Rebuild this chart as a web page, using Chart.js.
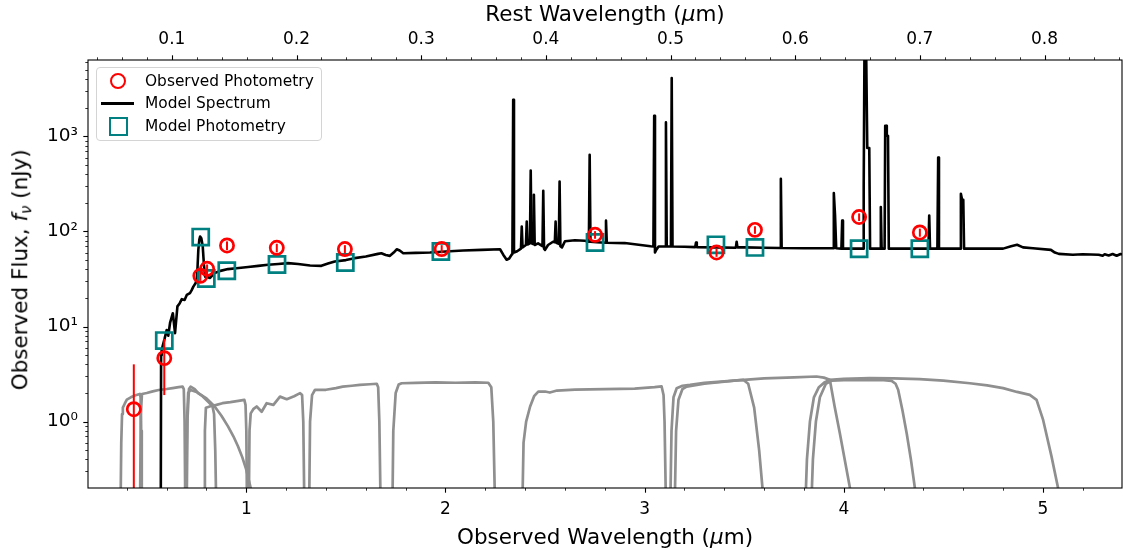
<!DOCTYPE html>
<html>
<head>
<meta charset="utf-8">
<title>SED fit</title>
<script src="https://cdn.jsdelivr.net/npm/chart.js@4.4.0/dist/chart.umd.min.js"></script>
<style>
  html, body { margin: 0; padding: 0; overflow: hidden; background: #fff; font-family: "DejaVu Sans", sans-serif; color: #000; }
  #wrap { position: relative; width: 1123px; height: 550px; overflow: hidden; }
  canvas { display: block; }
  .ttl { position: absolute; font-size: 21.5px; line-height: 21.5px; height: 21.5px; text-align: center; white-space: nowrap; }
  .ttl sub { font-size: 0.7em; vertical-align: -0.25em; line-height: 0; }
  #legend { position: absolute; left: 96px; top: 67px; width: 224px; height: 72px; border: 1px solid #d4d4d4; border-radius: 4px; background: rgba(255,255,255,0.8); font-size: 15.4px; }
  .row { position: absolute; left: 0; height: 20px; line-height: 20px; }
  .row span { position: absolute; left: 48px; white-space: nowrap; }
  .mk { position: absolute; box-sizing: border-box; }
</style>
</head>
<body>
<div id="wrap">
  <canvas id="SedChart" width="1123" height="550"></canvas>
  <div class="ttl" style="left:305px; top:3px; width:600px;">Rest Wavelength (<i>μ</i>m)</div>
  <div class="ttl" style="left:305px; top:526px; width:600px;">Observed Wavelength (<i>μ</i>m)</div>
  <div class="ttl" style="left:-180px; top:259px; width:400px; transform: rotate(-90deg);">Observed Flux, <i>f</i><sub><i>ν</i></sub> (nJy)</div>
  <div id="legend">
    <div class="row" style="top:3px;"><div class="mk" style="left:13px; top:2px; width:16px; height:16px; border:2.7px solid #ff0000; border-radius:50%;"></div><span>Observed Photometry</span></div>
    <div class="row" style="top:25px;"><div class="mk" style="left:4px; top:9px; width:33px; height:2.7px; background:#000;"></div><span>Model Spectrum</span></div>
    <div class="row" style="top:48px;"><div class="mk" style="left:12px; top:1px; width:18.5px; height:18.5px; border:2.7px solid #008080;"></div><span>Model Photometry</span></div>
  </div>
</div>
<script>
// redshift used for the rest-frame axis on top
const onePlusZ = 6.26;
const xMin = 0.205, xMax = 5.397;
const yMin = 0.2, yMax = 6370;

// observed photometry (nJy) and 1-sigma errors
const obsWave = [0.435, 0.588, 0.769, 0.803, 0.903, 1.153, 1.495, 1.981, 2.751, 3.361, 3.554, 4.077, 4.382];
const obsFlux = [1.35, 4.65, 34.2, 40.5, 71.2, 67.3, 65.3, 65.3, 92.3, 60.1, 104, 142, 97.6];
const obsErr  = [2.65, 2.75, 4.0, 4.5, 7.5, 7.0, 6.5, 6.5, 8.5, 6.0, 9.5, 13, 9.5];

// model photometry
const modelWave = [0.588, 0.771, 0.799, 0.902, 1.154, 1.497, 1.977, 2.751, 3.358, 3.554, 4.077, 4.382];
const modelFlux = [7.12, 87.3, 32.0, 38.6, 44.9, 47.2, 61.6, 76.6, 72.4, 67.9, 65.8, 65.8];

// model spectrum
const specWave = [0.570, 0.572, 0.575, 0.590, 0.600, 0.608, 0.617, 0.631, 0.642, 0.654, 0.665, 0.676, 0.690, 0.701, 0.717, 0.725, 0.734, 0.745, 0.751, 0.755, 0.759, 0.764, 0.768, 0.774, 0.781, 0.787, 0.793, 0.805, 0.818, 0.841, 0.870, 0.908, 0.950, 1.009, 1.060, 1.109, 1.160, 1.209, 1.260, 1.320, 1.377, 1.410, 1.444, 1.500, 1.544, 1.600, 1.661, 1.678, 1.700, 1.721, 1.740, 1.755, 1.770, 1.788, 1.850, 1.922, 2.000, 2.089, 2.180, 2.274, 2.290, 2.307, 2.320, 2.332,
  2.336, 2.340, 2.344, 2.360, 2.379, 2.383, 2.387, 2.404, 2.408, 2.412, 2.424, 2.428, 2.432, 2.440, 2.444, 2.448, 2.465, 2.487, 2.491, 2.495, 2.500, 2.515, 2.540, 2.549, 2.553, 2.557, 2.569, 2.573, 2.577, 2.585, 2.600, 2.650, 2.700, 2.720, 2.724, 2.728, 2.760, 2.802, 2.806, 2.810, 2.900, 2.980,
  3.030, 3.044, 3.048, 3.052, 3.058, 3.070, 3.103, 3.107, 3.111, 3.132, 3.136, 3.140, 3.200, 3.254, 3.258, 3.262, 3.350, 3.458, 3.462, 3.466, 3.500, 3.600, 3.680, 3.684, 3.688, 3.800, 3.946, 3.950, 3.956, 3.962, 3.988, 3.992, 3.996,
  4.097, 4.100, 4.104, 4.112, 4.118, 4.128, 4.132, 4.182, 4.186, 4.190, 4.205, 4.208, 4.213, 4.216, 4.222, 4.226, 4.300, 4.425, 4.429, 4.433, 4.470, 4.474, 4.478, 4.584, 4.588, 4.594, 4.600, 4.604, 4.700, 4.800, 4.840, 4.870, 4.900, 4.950, 5.040, 5.060, 5.080, 5.150, 5.200, 5.280, 5.300, 5.310, 5.330, 5.350, 5.370, 5.390, 5.410];
const specFlux = [0.05, 5.0, 5.7, 7.5, 9.2, 8.0, 10.9, 13.8, 8.5, 16.3, 17.5, 19.4, 19.0, 21.5, 22.5, 24.0, 26.3, 28.5, 31, 42, 64, 82, 88.5, 85, 70, 45, 33.5, 33, 32.5, 36.6, 38.5, 40.2, 41, 42.3, 43.5, 44.6, 45.5, 46.5, 45.5, 43.8, 43.5, 46, 48.4, 50, 52.4, 54.5, 58.1, 59, 56.5, 55.4, 60, 65, 63, 59, 59.5, 60, 61.5, 63, 64, 65, 57, 50.4, 52, 56.9,
  58, 2433, 60, 62, 66, 113, 68, 72, 127, 73, 75, 438, 75, 74, 243, 72, 75, 70, 268, 66, 64, 72, 78, 77, 127, 76, 74, 336, 70, 68, 79, 81, 80, 78, 642, 78, 77, 76, 130, 76, 75.5, 72,
  70, 69.6, 1651, 60, 64, 69.5, 69.5, 1404, 69.5, 69.5, 4120, 69.5, 69, 68.5, 76.6, 68.5, 68, 67.5, 78, 68, 68, 67.5, 67, 359, 67, 66.5, 66.5, 254, 150, 66.5, 66, 130, 66,
  66, 298, 9000, 9000, 755, 755, 66, 66, 181, 66, 66, 1297, 1297, 1016, 1016, 66, 66, 66, 147, 66, 66, 601, 66, 66, 249, 216, 216, 66, 66, 66, 70, 72.4, 68, 66.5, 64.1, 60, 58.1, 57, 57.5, 56.9, 55.5, 57.5, 56, 58, 55.5, 58, 57];

// filter transmission curves (scaled to the flux axis)
const f435wX = [0.368, 0.372, 0.376, 0.380, 0.390, 0.400, 0.420, 0.440, 0.465, 0.469, 0.472, 0.475];
const f435wY = [0.1, 0.6, 1.2, 1.4, 1.55, 1.7, 1.8, 1.88, 1.95, 1.8, 0.8, 0.1];
const f606wX = [0.466, 0.470, 0.476, 0.500, 0.530, 0.560, 0.600, 0.630, 0.660, 0.680, 0.686, 0.690, 0.694];
const f606wY = [0.1, 1.2, 1.95, 2.0, 2.08, 2.15, 2.2, 2.25, 2.3, 2.33, 2.2, 1.0, 0.1];
const f775wX = [0.697, 0.702, 0.708, 0.720, 0.750, 0.780, 0.810, 0.830, 0.838, 0.844, 0.850];
const f775wY = [0.1, 1.0, 2.0, 2.15, 2.05, 1.85, 1.6, 1.45, 1.2, 0.5, 0.1];
const f814wX = [0.700, 0.705, 0.712, 0.720, 0.741, 0.758, 0.800, 0.841, 0.875, 0.908, 0.935, 0.958, 0.980, 1.000, 1.022, 1.035];
const f814wY = [0.1, 1.1, 2.2, 2.33, 2.19, 1.99, 1.75, 1.44, 1.15, 0.89, 0.70, 0.55, 0.42, 0.31, 0.2, 0.15];
const f090wX = [0.788, 0.792, 0.797, 0.820, 0.850, 0.880, 0.920, 0.960, 0.990, 0.996, 1.000, 1.004];
const f090wY = [0.1, 0.8, 1.4, 1.45, 1.5, 1.56, 1.6, 1.65, 1.69, 1.5, 0.8, 0.1];
const f115wX = [1.012, 1.016, 1.022, 1.035, 1.052, 1.077, 1.102, 1.136, 1.169, 1.203, 1.240, 1.270, 1.280, 1.286, 1.292];
const f115wY = [0.1, 0.8, 1.22, 1.35, 1.44, 1.27, 1.56, 1.5, 1.83, 1.72, 1.85, 1.99, 1.9, 1.0, 0.1];
const f150wX = [1.315, 1.320, 1.330, 1.345, 1.400, 1.450, 1.484, 1.530, 1.570, 1.620, 1.655, 1.662, 1.668, 1.675];
const f150wY = [0.1, 1.0, 1.9, 2.16, 2.16, 2.25, 2.33, 2.38, 2.43, 2.47, 2.5, 2.3, 1.0, 0.1];
const f200wX = [1.733, 1.738, 1.750, 1.765, 1.780, 1.850, 1.950, 2.050, 2.150, 2.215, 2.230, 2.240, 2.250];
const f200wY = [0.1, 0.8, 2.0, 2.45, 2.53, 2.55, 2.58, 2.56, 2.58, 2.56, 2.3, 1.0, 0.1];
const f277wX = [2.385, 2.392, 2.405, 2.425, 2.445, 2.466, 2.500, 2.524, 2.560, 2.650, 2.800, 2.950, 3.050, 3.085, 3.095, 3.100, 3.108];
const f277wY = [0.1, 0.6, 1.0, 1.44, 1.85, 2.07, 2.07, 2.02, 2.12, 2.17, 2.19, 2.22, 2.3, 2.35, 1.9, 1.0, 0.1];
const f335mX = [3.128, 3.135, 3.145, 3.161, 3.190, 3.228, 3.300, 3.400, 3.495, 3.520, 3.550, 3.575, 3.597];
const f335mY = [0.1, 0.8, 1.8, 2.24, 2.38, 2.43, 2.55, 2.65, 2.75, 2.5, 1.4, 0.5, 0.15];
const f356wX = [3.150, 3.158, 3.170, 3.190, 3.211, 3.300, 3.450, 3.600, 3.750, 3.863, 3.900, 3.930, 3.954, 3.980, 4.031, 4.040];
const f356wY = [0.1, 0.8, 1.7, 2.2, 2.33, 2.5, 2.7, 2.85, 2.92, 2.98, 2.9, 2.75, 1.44, 0.76, 0.2, 0.15];
const f410mX = [3.835, 3.845, 3.860, 3.880, 3.910, 3.940, 4.000, 4.100, 4.200, 4.240, 4.260, 4.273, 4.295, 4.316, 4.337, 4.357, 4.365];
const f410mY = [0.1, 0.4, 1.0, 1.8, 2.5, 2.7, 2.72, 2.75, 2.72, 2.68, 2.5, 2.16, 1.3, 0.75, 0.4, 0.2, 0.15];
const f444wX = [3.805, 3.815, 3.830, 3.850, 3.875, 3.905, 3.930, 4.000, 4.130, 4.250, 4.380, 4.500, 4.633, 4.720, 4.800, 4.870, 4.934, 4.968, 5.001, 5.043, 5.076, 5.085];
const f444wY = [0.1, 0.4, 1.0, 1.8, 2.3, 2.6, 2.75, 2.82, 2.86, 2.85, 2.8, 2.7, 2.53, 2.4, 2.25, 2.05, 1.91, 1.69, 1.04, 0.43, 0.2, 0.15];

const filterX = [f435wX, f606wX, f775wX, f814wX, f090wX, f115wX, f150wX, f200wX, f277wX, f335mX, f356wX, f410mX, f444wX];
const filterY = [f435wY, f606wY, f775wY, f814wY, f090wY, f115wY, f150wY, f200wY, f277wY, f335mY, f356wY, f410mY, f444wY];

// tick values
const obsTicks = [1, 2, 3, 4, 5];
const restTicks = [0.1, 0.2, 0.3, 0.4, 0.5, 0.6, 0.7, 0.8];
const fluxTicks = [1, 10, 100, 1000];

function pts(xs, ys) { return xs.map((x, i) => ({x: x, y: ys[i]})); }

const FONT = '"DejaVu Sans", sans-serif';
const sup = {'-1': '⁻¹', '0': '⁰', '1': '¹', '2': '²', '3': '³'};

const datasets = [
  { label: 'Observed Photometry', data: pts(obsWave, obsFlux), pointStyle: 'circle', pointRadius: 6.6, pointBorderWidth: 2.7,
    borderColor: '#ff0000', backgroundColor: 'rgba(0,0,0,0)', showLine: false },
  { label: 'Model Photometry', data: pts(modelWave, modelFlux), pointStyle: 'rect', pointRadius: 11.4, pointBorderWidth: 2.7,
    borderColor: '#008080', backgroundColor: 'rgba(0,0,0,0)', showLine: false },
  { label: 'Model Spectrum', data: pts(specWave, specFlux), showLine: true, pointRadius: 0, borderColor: '#000', borderWidth: 2.6,
    borderJoinStyle: 'round', tension: 0, clip: 0 }
];
filterX.forEach((xs, i) => {
  datasets.push({ label: 'filter' + i, data: pts(xs, filterY[i]), showLine: true, pointRadius: 0,
    borderColor: '#8f8f8f', borderWidth: 2.7, borderJoinStyle: 'round', tension: 0, clip: 0 });
});

// frame, tick marks and error bars
const axesDecor = {
  id: 'axesDecor',
  afterDatasetsDraw(chart) {
    const {ctx, chartArea: a, scales} = chart;
    ctx.save();
    ctx.beginPath();
    ctx.rect(a.left, a.top, a.right - a.left, a.bottom - a.top);
    ctx.clip();
    ctx.strokeStyle = '#ff0000';
    ctx.lineWidth = 2;
    obsWave.forEach((w, i) => {
      const px = scales.x.getPixelForValue(w);
      const hi = scales.y.getPixelForValue(obsFlux[i] + obsErr[i]);
      const lo = obsFlux[i] - obsErr[i] > 0 ? scales.y.getPixelForValue(obsFlux[i] - obsErr[i]) : a.bottom + 5;
      ctx.beginPath();
      ctx.moveTo(px, hi);
      ctx.lineTo(px, lo);
      ctx.stroke();
    });
    ctx.restore();
  },
  afterDraw(chart) {
    const {ctx, chartArea: a, scales} = chart;
    ctx.save();
    ctx.strokeStyle = '#000';
    ctx.lineWidth = 1.1;
    ctx.strokeRect(a.left, a.top, a.right - a.left, a.bottom - a.top);

    function tickX(scale, v, len, w, top) {
      const p = Math.round(scale.getPixelForValue(v)) + 0.5;
      if (p < a.left || p > a.right) return;
      ctx.lineWidth = w;
      ctx.beginPath();
      if (top) { ctx.moveTo(p, a.top); ctx.lineTo(p, a.top - len); }
      else { ctx.moveTo(p, a.bottom); ctx.lineTo(p, a.bottom + len); }
      ctx.stroke();
    }
    function tickY(v, len, w) {
      const p = Math.round(scales.y.getPixelForValue(v)) + 0.5;
      if (p < a.top || p > a.bottom) return;
      ctx.lineWidth = w;
      ctx.beginPath();
      ctx.moveTo(a.left, p);
      ctx.lineTo(a.left - len, p);
      ctx.stroke();
    }
    for (let k = 1; k <= 27; k++) {
      const v = k * 0.2;
      if (k % 5 === 0) tickX(scales.x, v, 4.7, 1.1, false); else tickX(scales.x, v, 2.7, 0.8, false);
    }
    for (let k = 2; k <= 43; k++) {
      const v = k * 0.02;
      if (k % 5 === 0) tickX(scales.x2, v, 4.7, 1.1, true); else tickX(scales.x2, v, 2.7, 0.8, true);
    }
    for (let e = -1; e <= 3; e++) {
      for (let m = 1; m <= 9; m++) {
        const v = m * Math.pow(10, e);
        if (m === 1) tickY(v, 4.7, 1.1); else tickY(v, 2.7, 0.8);
      }
    }
    ctx.restore();
  }
};

function fixHeight(h) {
  return (s) => { s.height = h; s.paddingLeft = 0; s.paddingRight = 0; };
}

new Chart(document.getElementById('SedChart').getContext('2d'), {
  type: 'scatter',
  data: { datasets: datasets },
  options: {
    responsive: false,
    animation: false,
    devicePixelRatio: 1,
    layout: { autoPadding: false, padding: { left: 0, right: 1, top: 0, bottom: 0 } },
    plugins: { legend: { display: false }, tooltip: { enabled: false } },
    scales: {
      x: {
        type: 'linear', position: 'bottom', min: xMin, max: xMax,
        afterBuildTicks: (s) => { s.ticks = obsTicks.map(v => ({value: v})); },
        afterFit: fixHeight(62),
        grid: { display: false, drawTicks: false },
        border: { display: false },
        ticks: { autoSkip: false, maxRotation: 0, padding: 11, color: '#000', font: { family: FONT, size: 17 },
          callback: (v) => String(v) }
      },
      x2: {
        type: 'linear', position: 'top', min: xMin / onePlusZ, max: xMax / onePlusZ,
        afterBuildTicks: (s) => { s.ticks = restTicks.map(v => ({value: v})); },
        afterFit: fixHeight(60),
        grid: { display: false, drawTicks: false },
        border: { display: false },
        ticks: { autoSkip: false, maxRotation: 0, padding: 10, color: '#000', font: { family: FONT, size: 17 },
          callback: (v) => v.toFixed(1) }
      },
      y: {
        type: 'logarithmic', position: 'left', min: yMin, max: yMax,
        afterBuildTicks: (s) => { s.ticks = fluxTicks.map(v => ({value: v})); },
        afterFit: (s) => { s.width = 88; s.paddingTop = 0; s.paddingBottom = 0; },
        grid: { display: false, drawTicks: false },
        border: { display: false },
        ticks: { autoSkip: false, padding: 10, color: '#000', font: { family: FONT, size: 18.5 },
          callback: (v) => '10' + sup[String(Math.round(Math.log10(v)))] }
      }
    }
  },
  plugins: [axesDecor]
});
</script>
</body>
</html>
